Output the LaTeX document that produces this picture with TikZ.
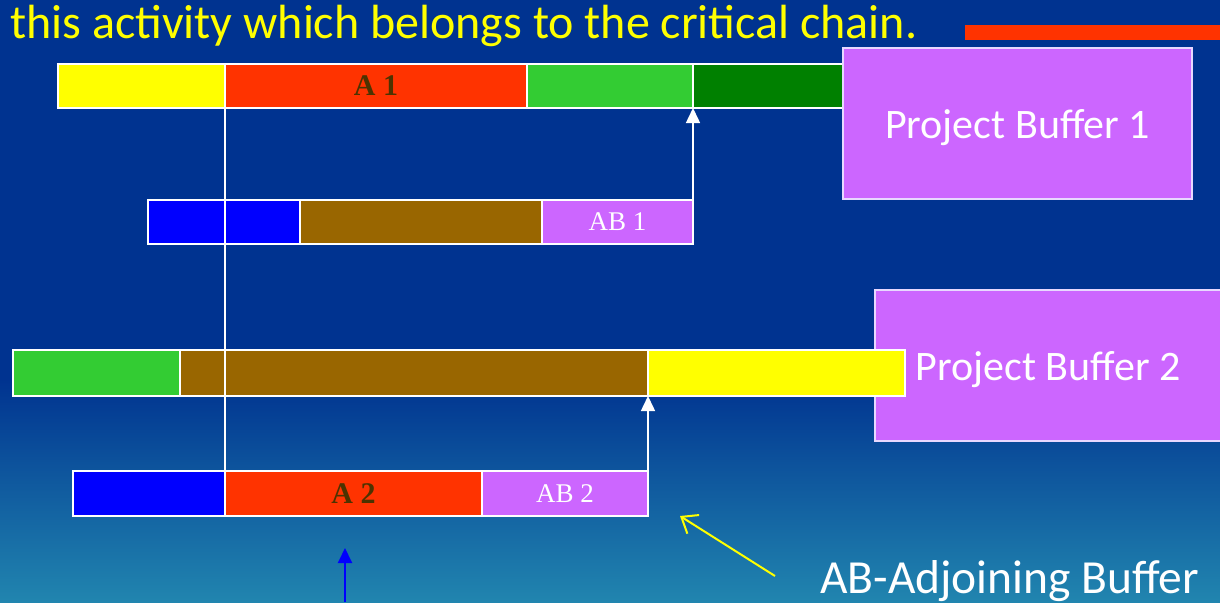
\documentclass[tikz,border=0pt]{standalone}
\usepackage{fontspec}
\setmainfont{Liberation Serif}
\newfontfamily\calib{Carlito}
\usetikzlibrary{arrows.meta}
\definecolor{bgtop}{HTML}{003390}
\definecolor{bgbot}{HTML}{2185AF}
\definecolor{cyel}{HTML}{FFFF00}
\definecolor{cred}{HTML}{FF3300}
\definecolor{cgrn}{HTML}{33CC33}
\definecolor{cdgrn}{HTML}{008000}
\definecolor{cblu}{HTML}{0000FF}
\definecolor{cbrn}{HTML}{996600}
\definecolor{cvio}{HTML}{CC66FF}
\definecolor{clab}{HTML}{4D3300}
\definecolor{cpbline}{HTML}{E8D8FF}
\tikzset{
  seg/.style={draw=white, line width=1.6pt, inner sep=0pt, outer sep=0pt, anchor=north west},
  pbox/.style={draw=cpbline, line width=1.2pt, fill=cvio, inner sep=0pt, outer sep=0pt, anchor=north west},
  pbtext/.style={anchor=base, inner sep=0pt, text=white, font=\calib\fontsize{42}{48}\selectfont},
  alab/.style={text=clab, font=\fontsize{30}{34}\selectfont\bfseries},
  blab/.style={text=white, font=\fontsize{27}{30}\selectfont},
  warrow/.style={draw=white, line width=1.5pt, -{Triangle[length=15pt,width=14pt]}},
}
\begin{document}
\begin{tikzpicture}[x=1pt,y=-1pt]
\useasboundingbox (0,0) rectangle (1220,602);
\fill[bgtop] (0,0) rectangle (1220,380);
\shade[top color=bgtop, bottom color=bgbot] (0,379) rectangle (1220,602);
% title
\node[anchor=base west, inner sep=0pt, text=cyel, font=\calib\fontsize{48}{56}\selectfont] (title) at (10,38) {this activity which belongs to the critical chain.};
\fill[cred] (965,25) rectangle (1220,40);
% bar 1
\node[seg, fill=cyel, minimum width=167pt, minimum height=44pt] (y1) at (58,64) {};
\node[seg, fill=cred, minimum width=302pt, minimum height=44pt, alab] (a1) at (225,64) {A 1};
\node[seg, fill=cgrn, minimum width=166pt, minimum height=44pt] (g1) at (527,64) {};
\node[seg, fill=cdgrn, minimum width=150pt, minimum height=44pt] (dg1) at (693,64) {};
\node[pbox, minimum width=349pt, minimum height=151pt] (pb1) at (843,48) {};
\node[pbtext] (pb1t) at (1017.5,138) {Project Buffer 1};
% bar AB1
\node[seg, fill=cblu, minimum width=152pt, minimum height=44pt] (b2) at (148,200) {};
\node[seg, fill=cbrn, minimum width=242pt, minimum height=44pt] (br2) at (300,200) {};
\node[seg, fill=cvio, minimum width=151pt, minimum height=44pt, blab] (ab1) at (542,200) {AB 1};
% project buffer 2 and bar 3
\node[pbox, minimum width=347pt, minimum height=151pt] (pb2) at (875,290) {};
\node[seg, fill=cgrn, minimum width=167pt, minimum height=46pt] (g3) at (13,350) {};
\node[seg, fill=cbrn, minimum width=468pt, minimum height=46pt] (br3) at (180,350) {};
\node[seg, fill=cyel, minimum width=257pt, minimum height=46pt] (y3) at (648,350) {};
\node[pbtext] (pb2t) at (1048,380) {Project Buffer 2};
% bar A2
\node[seg, fill=cblu, minimum width=152pt, minimum height=45pt] (b4) at (73,471) {};
\node[seg, fill=cred, minimum width=257pt, minimum height=45pt, alab] (a2) at (225,471) {A 2};
\node[seg, fill=cvio, minimum width=166pt, minimum height=45pt, blab] (ab2) at (482,471) {AB 2};
% connectors
\draw[white, line width=1.4pt] (a1.south west) -- (a2.north west);
\draw[warrow] (ab1.north east) -- (g1.south east);
\draw[warrow] (ab2.north east) -- (y3.south west);
% AB-Adjoining Buffer
\node[anchor=base west, inner sep=0pt, text=white, font=\calib\fontsize{47.5}{54}\selectfont] (abtxt) at (820,593) {AB-Adjoining Buffer};
\coordinate (ytail) at (775,576);
\coordinate (ytip) at (680,516);
\draw[cyel, line width=2pt, -{Straight Barb[length=14pt,width=22pt]}] (ytail) -- (ytip);
\coordinate (btail) at (345,602);
\coordinate (btip) at (345,548);
\draw[cblu, line width=2pt, -{Triangle[length=15pt,width=14pt]}] (btail) -- (btip);
\end{tikzpicture}
\end{document}
